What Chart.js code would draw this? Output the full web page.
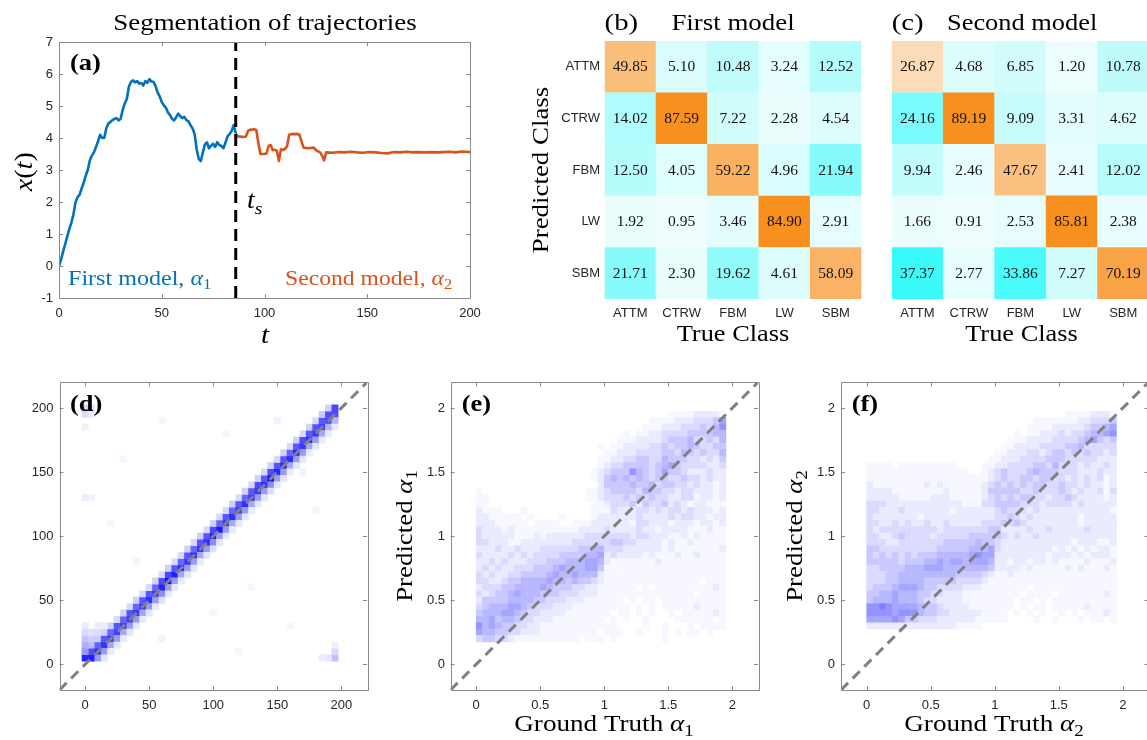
<!DOCTYPE html>
<html>
<head>
<meta charset="utf-8">
<title>Trajectory segmentation</title>
<script src="https://cdn.jsdelivr.net/npm/chart.js@4.4.1/dist/chart.umd.min.js"></script>
<style>
  html, body { margin: 0; padding: 0; width: 1147px; height: 740px; overflow: hidden; background: #fff; }
  canvas { position: absolute; left: 0; top: 0; }
</style>
</head>
<body>
<canvas id="panelA" width="1160" height="740"></canvas>
<canvas id="panelB" width="1160" height="740"></canvas>
<canvas id="panelC" width="1160" height="740"></canvas>
<canvas id="panelD" width="1160" height="740"></canvas>
<canvas id="panelE" width="1160" height="740"></canvas>
<canvas id="panelF" width="1160" height="740"></canvas>
<script>
// (a) one trajectory, x(t) for t = 0..86 with the first model
const xBlue = [
  0, 0.2, 0.45, 0.68, 0.92, 1.15, 1.35, 1.6, 1.98, 2.15,
  2.22, 2.42, 2.6, 2.82, 3.0, 3.3, 3.45, 3.55, 3.72, 3.9,
  4.1, 4.0, 4.0, 4.3, 4.45, 4.5, 4.56, 4.6, 4.62, 4.55,
  4.6, 4.88, 5.08, 5.22, 5.6, 5.75, 5.8, 5.74, 5.78, 5.7,
  5.72, 5.64, 5.78, 5.72, 5.84, 5.76, 5.76, 5.62, 5.42, 5.3,
  5.12, 5.02, 4.95, 4.8, 4.72, 4.6, 4.55, 4.65, 4.76, 4.68,
  4.62, 4.66, 4.56, 4.52, 4.4, 4.3, 4.12, 3.65, 3.35, 3.28,
  3.55, 3.8, 3.86, 3.68, 3.76, 3.82, 3.72, 3.87, 3.78, 3.75,
  3.68, 3.85, 4.05, 4.12, 4.22, 4.4, 4.15
];
// second model, after the switching time
const tOrange = [86, 87, 90, 91, 92, 93, 95, 96, 97, 98,
  100, 101, 102, 103, 104, 105, 106, 107, 108, 109,
  110, 111, 112, 113, 116, 117, 118, 119, 121, 124,
  125, 127, 128, 129, 130, 133, 136, 139, 142, 145,
  148, 151, 154, 157, 160, 163, 166, 169, 172, 175,
  178, 181, 184, 187, 190, 193, 196, 198, 200];
const xOrange = [4.15, 4.05, 4.03, 4.05, 4.22, 4.26, 4.27, 4.25, 3.85, 3.5,
  3.5, 3.52, 3.75, 3.78, 3.62, 3.63, 3.6, 3.28, 3.65, 3.62,
  3.66, 3.75, 4.1, 4.12, 4.13, 4.1, 3.9, 3.7, 3.68, 3.7,
  3.62, 3.55, 3.45, 3.3, 3.55, 3.54, 3.56, 3.55, 3.57, 3.55,
  3.54, 3.56, 3.55, 3.53, 3.52, 3.56, 3.55, 3.57, 3.55, 3.56,
  3.55, 3.56, 3.55, 3.56, 3.57, 3.55, 3.58, 3.57, 3.56];
const switchTime = 86;
const tTicks = [0, 50, 100, 150, 200];
const xTicks = [-1, 0, 1, 2, 3, 4, 5, 6, 7];

// (b), (c) confusion matrices in %, rows = predicted, columns = true
const classes = ['ATTM', 'CTRW', 'FBM', 'LW', 'SBM'];
const cmFirst = [
  [49.85, 5.10, 10.48, 3.24, 12.52],
  [14.02, 87.59, 7.22, 2.28, 4.54],
  [12.50, 4.05, 59.22, 4.96, 21.94],
  [1.92, 0.95, 3.46, 84.90, 2.91],
  [21.71, 2.30, 19.62, 4.61, 58.09]
];
const cmSecond = [
  [26.87, 4.68, 6.85, 1.20, 10.78],
  [24.16, 89.19, 9.09, 3.31, 4.62],
  [9.94, 2.46, 47.67, 2.41, 12.02],
  [1.66, 0.91, 2.53, 85.81, 2.38],
  [37.37, 2.77, 33.86, 7.27, 70.19]
];

// (d) switching time histogram, 5-step bins; shade along the diagonal
const diagD = [0, .88, .82, .8, .78, .75, .78, .75, .78, .8,
  .82, .78, .85, .94, .88, .82, .78, .82, .78, .82,
  .88, .9, .78, .82, .78, .82, .78, .78, .82, .94,
  .85, .88, .82, .88, .78, .82, .78, .75, .72, .7];
const upD = [.85, .7, .62, .66, .6, .66, .6, .66, .6, .66,
  .66, .6, .7, .72, .66, .6, .66, .6, .66, .66,
  .7, .6, .66, .6, .66, .6, .66, .7, .66, .7,
  .66, .66, .6, .66, .7, .66, .66, .66, .7, .72];
const downD = [0, 0, .4, .4, .35, .4, .35, .4, .4, .35,
  .4, .4, .45, .4, .4, .35, .4, .4, .35, .4,
  .45, .4, .4, .35, .4, .4, .35, .4, .4, .45,
  .4, .4, .35, .4, .4, .35, .4, .35, .3, .3];
const farD = [.35, .25, .2, .18, .18, .15, .18, .15, .18, .15,
  .15, .18, .15, .18, .15, .15, .18, .15, .18, .15,
  .18, .15, .15, .18, .15, .18, .15, .18, .15, .18,
  .15, .18, .15, .18, .15, .18, .15, .2, .18, 0];
const farDownD = [0, 0, 0, .1, .08, .1, .08, .1, .1, .08,
  .1, .08, .12, .1, .1, .08, .1, .1, .08, .1,
  .12, .1, .1, .08, .1, .1, .08, .1, .1, .12,
  .1, .1, .08, .1, .1, .08, .1, .08, .08, .08];
const extraD = [
  [0, 10, .4], [0, 15, .32], [0, 20, .24], [0, 25, .14], [0, 30, .08], [5, 20, .2], [5, 25, .12],
  [10, 25, .14], [10, 30, .08], [15, 30, .08], [0, 195, .14], [0, 200, .16], [5, 195, .08],
  [5, 200, .1], [0, 185, .06], [195, 5, .25], [195, 10, .15], [190, 5, .1], [185, 5, .07],
  [195, 15, .06], [0, 130, .07], [5, 130, .05], [30, 160, .04], [60, 190, .04], [110, 180, .04],
  [150, 190, .05], [170, 150, .05], [180, 120, .04], [130, 60, .04], [100, 40, .04], [60, 20, .05],
  [40, 80, .04], [20, 110, .04], [160, 30, .04], [120, 10, .04]
];
const dTicks = [0, 50, 100, 150, 200];
const dRange = [-20, 220];

// (e), (f) alpha histograms, bins of 0.05; rows from the top (alpha ~1.95) down to ~0.2,
// one shade level per cell (0 = empty)
const histE = [
  "0000 0000 0000 0000 0000 0000 0000 0011 1122 221",
  "0000 0000 0000 0000 0000 0000 0001 1112 2233 346",
  "0000 0000 0000 0000 0000 0000 0011 1222 3334 357",
  "0000 0000 0000 0000 0000 0001 0112 2333 3444 455",
  "0000 0000 0000 0000 0000 0011 1222 2344 4533 435",
  "0000 0000 0000 0000 0001 0112 2223 3434 4543 344",
  "0000 0000 0000 0000 0000 1122 2333 3443 5434 335",
  "0000 0000 0000 0000 0001 1223 3443 3544 4332 324",
  "0000 0000 0000 0000 0001 2334 4443 4564 3333 223",
  "0000 0000 0000 0000 0012 3444 7543 4644 3222 322",
  "0000 0000 0000 0000 0012 4545 4543 4433 4332 322",
  "0000 0000 0000 0000 0002 4444 5445 3443 3232 212",
  "1000 0000 0000 0000 0112 3444 4354 4332 3322 212",
  "1100 0000 0000 0000 0112 3334 3434 3322 3312 212",
  "1100 0000 0000 0000 0011 2333 4243 3423 2122 111",
  "2111 0001 0000 0000 0011 1322 2332 3233 2322 212",
  "2211 1110 1000 0100 0012 2222 2322 2232 3322 122",
  "2221 1111 0111 1001 1122 2222 1332 2212 2212 212",
  "3222 1211 1111 1111 2222 3222 2322 1222 2111 211",
  "3222 2211 1212 2222 2333 3333 2332 2211 2121 111",
  "3322 2112 2222 2223 3333 3443 3222 2121 1211 111",
  "2223 2232 2233 3333 4455 3332 2222 2121 1111 112",
  "3222 2323 2333 3444 4556 2322 2212 1112 1121 111",
  "2232 3222 3334 4455 5665 2111 1111 2111 1111 111",
  "2323 2233 3444 5655 5664 1111 1111 1111 1111 111",
  "3232 2334 4445 6556 5552 1111 1111 1111 1111 111",
  "3322 3445 5556 5545 4432 1111 1111 1111 1110 111",
  "2333 4455 5565 4443 3221 1111 1010 1111 1111 121",
  "3234 4565 5544 4333 2221 1111 1111 1111 1101 111",
  "2444 4555 5443 3322 2111 1110 1011 0111 1111 111",
  "3455 5665 4333 2221 1111 1111 0101 0111 1121 111",
  "4555 6654 3322 2211 1111 1011 0101 0010 1111 121",
  "5564 5543 3222 1111 1111 0101 0010 0001 1111 101",
  "7565 4433 2211 1111 1111 1100 0010 0100 0101 111",
  "6554 4332 2211 1111 1110 1110 0100 0101 0110 100",
  "3443 3211 1111 1111 0111 0100 0000 0100 0000 000"
];
const histF = [
  "0000 0000 0000 0000 0000 0000 0000 0001 1112 221",
  "0000 0000 0000 0000 0000 0000 0011 1111 1223 334",
  "0000 0000 0000 0000 0000 0000 0111 1222 2234 456",
  "0000 0000 0000 0000 0000 0001 0112 2232 3345 567",
  "0000 0000 0000 0000 0000 0011 1222 2333 3456 434",
  "0000 0000 0000 0000 0000 0112 2223 3334 4533 333",
  "0000 0000 0000 0000 0000 1122 2332 3443 4343 323",
  "0000 0000 0000 0000 0001 1222 3333 4443 3333 222",
  "1111 0111 1111 1100 0011 2233 3344 3533 3232 232",
  "1111 1111 1111 1111 0012 3433 3454 4433 3222 322",
  "1111 1111 1111 1111 1112 3433 4434 4332 3232 312",
  "2111 1111 1212 1111 1123 4343 4344 3343 3232 212",
  "2222 1111 1111 2111 1124 4444 3343 3343 2322 313",
  "2222 2111 1122 2111 1123 4343 4433 2334 3222 212",
  "3332 2222 2222 2221 1133 4444 3332 3333 2322 222",
  "3322 2322 2222 2122 2222 3433 3232 2222 2222 221",
  "3222 2222 1222 2222 2222 3343 2322 2222 2122 222",
  "3322 3232 2322 3222 2233 3434 3222 2222 2122 222",
  "3233 3333 3332 3333 3334 4222 2322 3222 2232 222",
  "3322 3433 3323 3333 4444 4323 2232 2222 2222 222",
  "3332 2333 3333 4444 4544 3222 2222 2222 1222 112",
  "4433 3333 3334 4444 5556 3222 2222 2121 2121 221",
  "4343 4343 4445 5555 6766 2222 2222 1222 1212 221",
  "4444 4344 4556 5665 6665 2212 2122 1211 1121 112",
  "3344 4455 5666 5555 5554 2222 1211 1112 1211 121",
  "3334 4555 5555 5544 4432 1121 1111 1111 1111 111",
  "3334 4555 5444 4433 3321 1111 1111 1111 1111 111",
  "3444 5666 5443 3332 2211 1111 1011 1111 1111 111",
  "4455 6555 4433 2221 1111 1111 0111 1011 1111 121",
  "4555 6555 4332 2221 1111 1110 1101 0111 1111 111",
  "7787 6666 5443 2222 1111 1110 1011 0111 1121 111",
  "7777 6777 5443 3222 2211 1101 0101 0010 1011 121",
  "6666 7644 3332 2222 2111 1100 0010 0100 0101 101",
  "2222 2222 2222 2211 1100 0000 0000 0000 0000 000",
  "0000 0000 0000 0000 0000 0000 0000 0000 0000 000",
  "0000 0000 0000 0000 0000 0000 0000 0000 0000 000"
];
// shade strength for each level 0..9
const shadeLevels = [0, 0.03, 0.08, 0.14, 0.21, 0.28, 0.35, 0.42, 0.5, 0.57];
const alphaTicks = [0, 0.5, 1, 1.5, 2];
const alphaRange = [-0.2, 2.2];

const SERIF = '"Liberation Serif", "DejaVu Serif", serif';
const SANS = '"Liberation Sans", Arial, sans-serif';
const BLUE = '#0072BD';
const ORANGE = '#D95319';

// serif labels with italic / subscript pieces, widened a little
function drawRich(ctx, item) {
  const size = item.size || 24;
  const stretch = item.stretch || 1.12;
  const fontFor = p => (p.it ? 'italic ' : '') + (item.bold ? 'bold ' : '') +
    (p.sub ? size * 0.7 : size) + 'px ' + SERIF;
  let width = 0;
  const widths = item.parts.map(p => {
    ctx.font = fontFor(p);
    const w = ctx.measureText(p.t).width;
    width += w;
    return w;
  });
  ctx.save();
  ctx.translate(item.x, item.y);
  if (item.rot) ctx.rotate(item.rot);
  ctx.scale(stretch, 1);
  ctx.fillStyle = item.color || '#000';
  ctx.textBaseline = 'alphabetic';
  ctx.textAlign = 'left';
  let x = item.align === 'center' ? -width / 2 : 0;
  item.parts.forEach((p, i) => {
    ctx.font = fontFor(p);
    ctx.fillText(p.t, x, p.sub ? size * 0.22 : 0);
    x += widths[i];
  });
  ctx.restore();
}

const textPlugin = {
  id: 'texts',
  afterDraw(chart, args, opts) {
    (opts.items || []).forEach(it => drawRich(chart.ctx, it));
  }
};

// matlab style box with inward ticks on all four sides
const boxPlugin = {
  id: 'box',
  afterDatasetsDraw(chart) {
    const { ctx, chartArea: a, scales: { x, y } } = chart;
    const len = 4;
    ctx.save();
    ctx.strokeStyle = '#8a8a8a';
    ctx.lineWidth = 1;
    ctx.beginPath();
    ctx.rect(Math.round(a.left) + 0.5, Math.round(a.top) + 0.5,
      Math.round(a.width), Math.round(a.height));
    x.ticks.forEach(t => {
      const px = Math.round(x.getPixelForValue(t.value)) + 0.5;
      ctx.moveTo(px, a.bottom); ctx.lineTo(px, a.bottom - len);
      ctx.moveTo(px, a.top); ctx.lineTo(px, a.top + len);
    });
    y.ticks.forEach(t => {
      const py = Math.round(y.getPixelForValue(t.value)) + 0.5;
      ctx.moveTo(a.left, py); ctx.lineTo(a.left + len, py);
      ctx.moveTo(a.right, py); ctx.lineTo(a.right - len, py);
    });
    ctx.stroke();
    ctx.restore();
  }
};

// percentages written in the confusion matrix cells
const cellTextPlugin = {
  id: 'cellText',
  afterDatasetsDraw(chart) {
    const ctx = chart.ctx;
    const data = chart.data.datasets[0].data;
    ctx.save();
    ctx.font = '15.5px ' + SERIF;
    ctx.fillStyle = '#111';
    ctx.textAlign = 'center';
    ctx.textBaseline = 'alphabetic';
    chart.getDatasetMeta(0).data.forEach((pt, i) => {
      ctx.fillText(data[i].v.toFixed(2), pt.x, pt.y + 4.5);
    });
    ctx.restore();
  }
};

function axis(o) {
  return {
    type: 'linear', position: o.pos, min: o.min, max: o.max, reverse: !!o.reverse,
    grid: { display: false, drawTicks: false },
    border: { display: false },
    ticks: {
      display: o.show !== false, padding: o.pad, autoSkip: false, maxRotation: 0,
      font: { family: SANS, size: 13 }, color: '#262626',
      callback: (v, i) => o.labels ? o.labels[i] : String(v)
    },
    afterBuildTicks: s => { s.ticks = o.ticks.map(v => ({ value: v })); },
    afterFit: s => {
      if (o.pos === 'left') s.width = o.size; else s.height = o.size;
      s.paddingLeft = s.paddingRight = s.paddingTop = s.paddingBottom = 0;
    }
  };
}

function baseOptions(padding, scales, plugins) {
  return {
    responsive: false, animation: false, events: [],
    layout: { padding },
    scales,
    plugins: Object.assign({ legend: { display: false }, tooltip: { enabled: false } }, plugins)
  };
}

// square point covering one bin of width w (in x units)
const cellRadius = w => c => {
  const s = c.chart.scales.x;
  return Math.abs(s.getPixelForValue(w) - s.getPixelForValue(0)) / Math.SQRT2 + 0.35;
};
const blueShade = t => {
  const k = Math.round(255 * (1 - Math.min(1, t)));
  return 'rgb(' + k + ',' + k + ',255)';
};
function cmColor(cell) {
  if (cell.diag) {
    const t = Math.min(1, cell.v / 85);
    return 'rgb(' + Math.round(255 - 8 * t) + ',' + Math.round(255 - 111 * t) + ',' + Math.round(255 - 225 * t) + ')';
  }
  const r = Math.max(0, Math.round(244 - 5 * cell.v));
  const g = Math.round(253 - 0.1 * cell.v);
  return 'rgb(' + r + ',' + g + ',' + g + ')';
}

function gridPoints(rows, x0, y0, step) {
  const pts = [];
  const n = rows.length;
  rows.forEach((row, r) => {
    row.replace(/ /g, '').split('').forEach((ch, c) => {
      const d = +ch;
      if (d > 0) pts.push({ x: x0 + step * c, y: y0 + step * (n - 1 - r), v: shadeLevels[d] });
    });
  });
  return pts;
}

// ---------- (a) ----------
new Chart(document.getElementById('panelA'), {
  type: 'scatter',
  data: {
    datasets: [
      { data: [{ x: switchTime, y: xTicks[0] }, { x: switchTime, y: xTicks[xTicks.length - 1] }],
        showLine: true, borderColor: '#000', borderWidth: 3, borderDash: [12, 7], pointRadius: 0 },
      { data: xBlue.map((v, i) => ({ x: i, y: v })), showLine: true, borderColor: BLUE,
        borderWidth: 2.6, borderJoinStyle: 'round', pointRadius: 0 },
      { data: tOrange.map((t, i) => ({ x: t, y: xOrange[i] })), showLine: true, borderColor: ORANGE,
        borderWidth: 2.6, borderJoinStyle: 'round', pointRadius: 0 }
    ]
  },
  options: baseOptions({ left: 0, top: 42, right: 690, bottom: 412 }, {
    x: axis({ pos: 'bottom', min: 0, max: 200, ticks: tTicks, size: 30, pad: 8 }),
    y: axis({ pos: 'left', min: -1, max: 7, ticks: xTicks, size: 59, pad: 6 })
  }, {
    texts: { items: [
      { parts: [{ t: 'Segmentation of trajectories' }], x: 265, y: 30, size: 23, stretch: 1.17, align: 'center' },
      { parts: [{ t: '(a)' }], x: 70, y: 70, size: 23, bold: true, stretch: 1.15 },
      { parts: [{ t: 'First model, ' }, { t: 'α', it: true }, { t: '1', sub: true }], x: 68, y: 284.5, size: 21.5, color: BLUE, stretch: 1.12 },
      { parts: [{ t: 'Second model, ' }, { t: 'α', it: true }, { t: '2', sub: true }], x: 285, y: 284.5, size: 21.5, color: ORANGE, stretch: 1.1 },
      { parts: [{ t: 't', it: true }, { t: 's', it: true, sub: true }], x: 247, y: 208, size: 25 },
      { parts: [{ t: 'x', it: true }, { t: '(' }, { t: 't', it: true }, { t: ')' }], x: 31.5, y: 171.7, size: 25, rot: -Math.PI / 2, align: 'center' },
      { parts: [{ t: 't', it: true }], x: 265, y: 343, size: 26, align: 'center' }
    ] }
  }),
  plugins: [boxPlugin, textPlugin]
});

// ---------- (b), (c) ----------
const classTicks = classes.map((_, i) => i + 0.5);

function confusionChart(id, matrix, padding, rowLabels, texts) {
  const cells = [];
  matrix.forEach((row, r) => row.forEach((v, c) => {
    cells.push({ x: classTicks[c], y: classTicks[r], v, diag: r === c });
  }));
  return new Chart(document.getElementById(id), {
    type: 'scatter',
    data: {
      datasets: [{
        data: cells, pointStyle: 'rect', pointRadius: cellRadius(1), pointBorderWidth: 0,
        pointBackgroundColor: c => (c.raw ? cmColor(c.raw) : '#fff')
      }]
    },
    options: baseOptions(padding, {
      x: axis({ pos: 'bottom', min: 0, max: 5, ticks: classTicks, labels: classes, size: 30, pad: 6.5 }),
      y: axis({ pos: 'left', min: 0, max: 5, reverse: true, ticks: classTicks, labels: classes,
        size: rowLabels ? 60 : 0, pad: 4.6, show: rowLabels })
    }, { texts: { items: texts } }),
    plugins: [cellTextPlugin, textPlugin]
  });
}

confusionChart('panelB', cmFirst, { left: 544.6, top: 41, right: 298.5, bottom: 411 }, true, [
  { parts: [{ t: '(b)' }], x: 604.6, y: 30, size: 24, stretch: 1.2 },
  { parts: [{ t: 'First model' }], x: 671.4, y: 29.5, size: 24, stretch: 1.12 },
  { parts: [{ t: 'Predicted Class' }], x: 548, y: 170, size: 24, rot: -Math.PI / 2, align: 'center', stretch: 1.12 },
  { parts: [{ t: 'True Class' }], x: 733, y: 341, size: 24, align: 'center', stretch: 1.1 }
]);
confusionChart('panelC', cmSecond, { left: 891.7, top: 41, right: 11, bottom: 411 }, false, [
  { parts: [{ t: '(c)' }], x: 891.7, y: 30, size: 24, stretch: 1.2 },
  { parts: [{ t: 'Second model' }], x: 947, y: 29.5, size: 24, stretch: 1.1 },
  { parts: [{ t: 'True Class' }], x: 1021.5, y: 341, size: 24, align: 'center', stretch: 1.1 }
]);

// ---------- (d), (e), (f) ----------
function heatChart(id, cells, binW, range, ticks, padding, texts) {
  return new Chart(document.getElementById(id), {
    type: 'scatter',
    data: {
      datasets: [
        { data: [{ x: range[0], y: range[0] }, { x: range[1], y: range[1] }], showLine: true,
          borderColor: '#808080', borderWidth: 3, borderDash: [10, 6.5], pointRadius: 0 },
        { data: cells, pointStyle: 'rect', pointRadius: cellRadius(binW), pointBorderWidth: 0,
          pointBackgroundColor: c => (c.raw ? blueShade(c.raw.v) : '#fff') }
      ]
    },
    options: baseOptions(padding, {
      x: axis({ pos: 'bottom', min: range[0], max: range[1], ticks, size: 30, pad: 8 }),
      y: axis({ pos: 'left', min: range[0], max: range[1], ticks, size: 60, pad: padding.yPad })
    }, { texts: { items: texts } }),
    plugins: [boxPlugin, textPlugin]
  });
}

const cellsD = [];
diagD.forEach((v, i) => {
  const x = 5 * i;
  if (v > 0) cellsD.push({ x, y: x, v });
  if (upD[i] > 0) cellsD.push({ x, y: x + 5, v: upD[i] });
  if (downD[i] > 0) cellsD.push({ x, y: x - 5, v: downD[i] });
  if (farD[i] > 0) cellsD.push({ x, y: x + 10, v: farD[i] });
  if (farDownD[i] > 0) cellsD.push({ x, y: x - 10, v: farDownD[i] });
});
extraD.forEach(([x, y, v]) => cellsD.push({ x, y, v }));

heatChart('panelD', cellsD, 5, dRange, dTicks,
  { left: -0.5, top: 382.3, right: 793, bottom: 20, yPad: 6 }, [
  { parts: [{ t: '(d)' }], x: 70, y: 411, size: 23, bold: true, stretch: 1.15 }
]);

heatChart('panelE', gridPoints(histE, 0.025, 0.2, 0.05), 0.05, alphaRange, alphaTicks,
  { left: 390.5, top: 382.3, right: 402, bottom: 20, yPad: 5.5 }, [
  { parts: [{ t: '(e)' }], x: 461.7, y: 411, size: 23, bold: true, stretch: 1.15 },
  { parts: [{ t: 'Predicted ' }, { t: 'α', it: true }, { t: '1', sub: true }], x: 411.5, y: 536, size: 24, rot: -Math.PI / 2, align: 'center', stretch: 1.12 },
  { parts: [{ t: 'Ground Truth ' }, { t: 'α', it: true }, { t: '1', sub: true }], x: 604, y: 731, size: 24, align: 'center', stretch: 1.13 }
]);

heatChart('panelF', gridPoints(histF, 0.025, 0.2, 0.05), 0.05, alphaRange, alphaTicks,
  { left: 781, top: 382.3, right: 11.5, bottom: 20, yPad: 6 }, [
  { parts: [{ t: '(f)' }], x: 851.7, y: 411, size: 23, bold: true, stretch: 1.15 },
  { parts: [{ t: 'Predicted ' }, { t: 'α', it: true }, { t: '2', sub: true }], x: 801.5, y: 536, size: 24, rot: -Math.PI / 2, align: 'center', stretch: 1.12 },
  { parts: [{ t: 'Ground Truth ' }, { t: 'α', it: true }, { t: '2', sub: true }], x: 994, y: 731, size: 24, align: 'center', stretch: 1.13 }
]);
</script>
</body>
</html>
